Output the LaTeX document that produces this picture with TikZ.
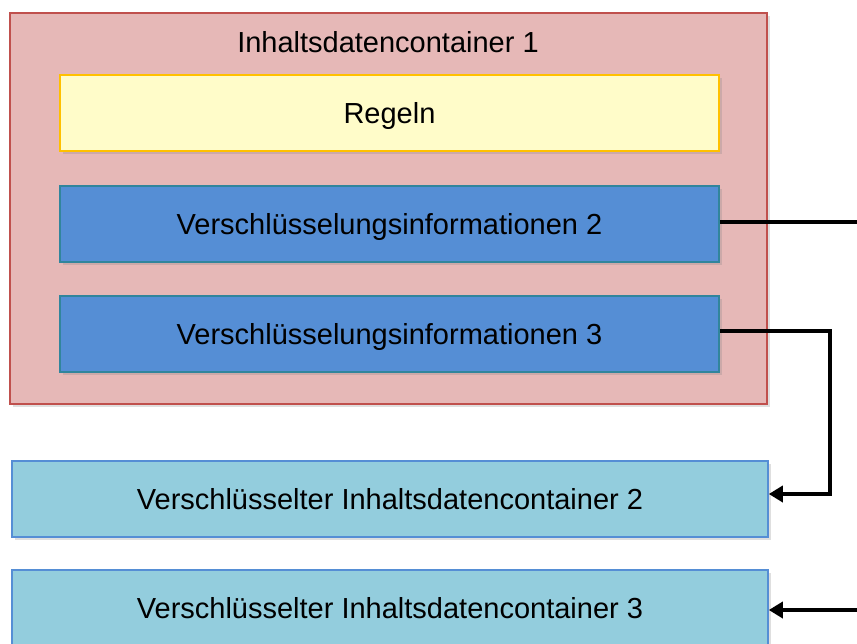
\documentclass[tikz,border=0pt]{standalone}
\usepackage{fontspec}
\setmainfont{Liberation Sans}
\usetikzlibrary{arrows.meta,shadows}
\definecolor{rotfill}{HTML}{E6B8B7}
\definecolor{rotrand}{HTML}{C0504D}
\definecolor{gelbfill}{HTML}{FFFCC9}
\definecolor{gelbrand}{HTML}{FFC000}
\definecolor{blaufill}{HTML}{558ED5}
\definecolor{blaurand}{HTML}{31859C}
\definecolor{hellfill}{HTML}{93CDDD}
\begin{document}
\begin{tikzpicture}[x=0.5pt,y=-0.5pt,font=\fontsize{14.5}{17}\selectfont,
  schatten/.style={drop shadow={shadow xshift=1.5pt,shadow yshift=-1.5pt,opacity=0.25}}]
\useasboundingbox (0,0) rectangle (857,643);
\begin{scope}[every node/.style={rectangle,line width=0.8pt,schatten,inner sep=0pt}]
	\node[fill=rotfill,draw=rotrand,minimum width=378.5pt,minimum height=195.5pt] (K1) at (388.5,208.5) {};
	\node[fill=gelbfill,draw=gelbrand,minimum width=329.5pt,minimum height=38pt,text depth=0pt] (R) at (389.5,113) {Regeln};
	\node[fill=blaufill,draw=blaurand,minimum width=329.5pt,minimum height=38pt,text depth=0pt] (V2) at (389.5,224) {Verschlüsselungsinformationen 2};
	\node[fill=blaufill,draw=blaurand,minimum width=329.5pt,minimum height=38pt,text depth=0pt] (V3) at (389.5,334) {Verschlüsselungsinformationen 3};
	\node[fill=hellfill,draw=blaufill,minimum width=378pt,minimum height=38pt] (C2) at (390,499) {Verschlüsselter Inhaltsdatencontainer 2};
	\node[fill=hellfill,draw=blaufill,minimum width=378pt,minimum height=38pt] (C3) at (390,608) {Verschlüsselter Inhaltsdatencontainer 3};
\end{scope}
\node (T) at (388,42) {Inhaltsdatencontainer 1};

\coordinate (P2) at (857,222);
\coordinate (P3) at (857,610);
\begin{scope}[every path/.style={draw=black,line width=1.8pt}]
	\path ([yshift=1pt]V2.east) -- (P2);
	\path [-{Triangle[length=7pt,width=8pt]}] ([yshift=1.5pt]V3.east) -- ++(110,0) |- ([yshift=2.5pt]C2.east);
	\path [-{Triangle[length=7pt,width=8pt]}] (P3) -- ([yshift=-1pt]C3.east);
	%\path (V3.east) -- (C3.east);
\end{scope}
\end{tikzpicture}
\end{document}
